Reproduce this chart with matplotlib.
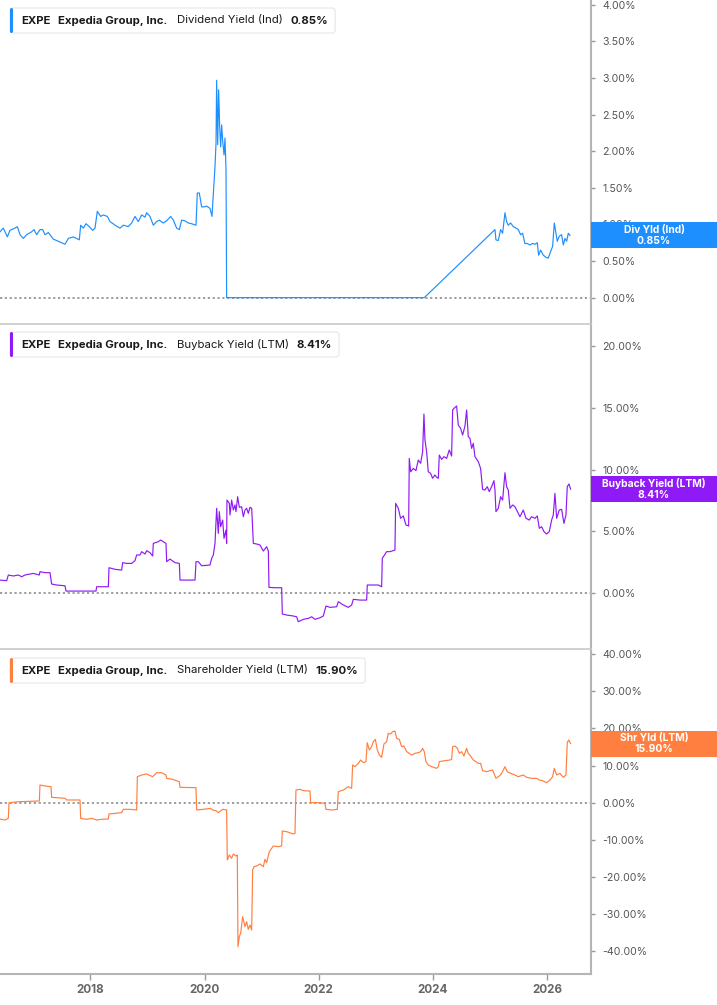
import numpy as np
import matplotlib
matplotlib.use('Agg')
import matplotlib.pyplot as plt
from matplotlib.patches import FancyBboxPatch, Rectangle
from matplotlib.transforms import IdentityTransform

# Dividend yield (Ind), %
div_years = [2016.414, 2016.472, 2016.543, 2016.589, 2016.677, 2016.718, 2016.765, 2016.823, 2016.881, 2016.969,
             2017.010, 2017.057, 2017.115, 2017.162, 2017.203, 2017.261, 2017.349, 2017.436, 2017.553, 2017.612,
             2017.699, 2017.804, 2017.828, 2017.874, 2017.921, 2017.980, 2018.038, 2018.079, 2018.120, 2018.178,
             2018.225, 2018.295, 2018.342, 2018.430, 2018.517, 2018.576, 2018.663, 2018.722, 2018.780, 2018.838,
             2018.897, 2018.955, 2018.984, 2019.043, 2019.101, 2019.160, 2019.206, 2019.276, 2019.335, 2019.405,
             2019.452, 2019.510, 2019.557, 2019.598, 2019.656, 2019.715, 2019.773, 2019.849, 2019.872, 2019.907,
             2019.948, 2019.989, 2020.036, 2020.094, 2020.129, 2020.153, 2020.182, 2020.200, 2020.211, 2020.229,
             2020.246, 2020.264, 2020.281, 2020.299, 2020.316, 2020.340, 2020.357, 2020.375, 2020.386, 2023.850,
             2025.089, 2025.106, 2025.147, 2025.188, 2025.223, 2025.264, 2025.293, 2025.322, 2025.363, 2025.410,
             2025.457, 2025.498, 2025.538, 2025.573, 2025.614, 2025.656, 2025.702, 2025.749, 2025.790, 2025.831,
             2025.854, 2025.889, 2025.936, 2025.983, 2026.023, 2026.064, 2026.099, 2026.129, 2026.158, 2026.181,
             2026.216, 2026.257, 2026.287, 2026.316, 2026.345, 2026.374, 2026.403]
div_vals = [0.90, 0.95, 0.83, 0.92, 0.95, 0.97, 0.86, 0.81, 0.86, 0.90,
            0.93, 0.86, 0.93, 0.93, 0.86, 0.89, 0.80, 0.77, 0.73, 0.81,
            0.83, 0.79, 0.99, 0.95, 1.01, 0.97, 0.92, 0.95, 1.18, 1.11,
            1.13, 1.11, 1.04, 0.99, 0.95, 0.99, 0.97, 1.02, 1.11, 1.04,
            1.13, 1.10, 1.16, 1.11, 0.99, 1.04, 1.06, 1.02, 1.05, 1.11,
            1.06, 0.95, 0.93, 1.06, 1.05, 1.02, 1.01, 0.99, 1.43, 1.43,
            1.24, 1.24, 1.25, 1.22, 1.11, 1.42, 1.79, 2.11, 2.97, 2.09,
            2.84, 2.34, 2.06, 2.36, 2.15, 1.95, 2.18, 1.75, 0.00, 0.00,
            0.93, 0.79, 0.78, 0.93, 0.88, 1.16, 1.04, 0.99, 1.02, 0.97,
            0.95, 0.93, 0.86, 0.88, 0.74, 0.74, 0.72, 0.74, 0.73, 0.75,
            0.58, 0.65, 0.58, 0.55, 0.54, 0.63, 0.70, 1.02, 0.88, 0.77,
            0.84, 0.86, 0.72, 0.81, 0.77, 0.88, 0.85]

# Buyback yield (LTM), %
bb_years = [2016.414, 2016.531, 2016.560, 2016.648, 2016.735, 2016.794, 2016.852, 2016.940, 2016.998, 2017.103,
            2017.115, 2017.203, 2017.290, 2017.319, 2017.407, 2017.553, 2017.571, 2017.699, 2017.874, 2018.096,
            2018.108, 2018.225, 2018.313, 2018.324, 2018.430, 2018.546, 2018.564, 2018.634, 2018.722, 2018.780,
            2018.809, 2018.868, 2018.897, 2018.955, 2018.984, 2019.043, 2019.090, 2019.101, 2019.189, 2019.230,
            2019.276, 2019.323, 2019.335, 2019.393, 2019.481, 2019.557, 2019.569, 2019.685, 2019.832, 2019.849,
            2019.890, 2019.948, 2020.094, 2020.124, 2020.153, 2020.182, 2020.211, 2020.240, 2020.258, 2020.281,
            2020.316, 2020.340, 2020.375, 2020.386, 2020.392, 2020.433, 2020.445, 2020.474, 2020.503, 2020.532,
            2020.550, 2020.579, 2020.608, 2020.649, 2020.679, 2020.708, 2020.737, 2020.766, 2020.795, 2020.825,
            2020.854, 2020.912, 2020.971, 2021.029, 2021.087, 2021.117, 2021.128, 2021.233, 2021.350, 2021.362,
            2021.438, 2021.555, 2021.613, 2021.642, 2021.730, 2021.817, 2021.876, 2021.934, 2022.022, 2022.080,
            2022.127, 2022.197, 2022.314, 2022.343, 2022.431, 2022.518, 2022.577, 2022.606, 2022.723, 2022.840,
            2022.851, 2022.957, 2023.044, 2023.103, 2023.114, 2023.190, 2023.249, 2023.336, 2023.348, 2023.395,
            2023.435, 2023.482, 2023.529, 2023.576, 2023.587, 2023.611, 2023.657, 2023.704, 2023.745, 2023.786,
            2023.821, 2023.844, 2023.862, 2023.891, 2023.920, 2023.961, 2023.996, 2024.037, 2024.066, 2024.096,
            2024.113, 2024.154, 2024.195, 2024.242, 2024.288, 2024.329, 2024.347, 2024.388, 2024.417, 2024.446,
            2024.487, 2024.522, 2024.563, 2024.592, 2024.621, 2024.651, 2024.680, 2024.709, 2024.738, 2024.797,
            2024.837, 2024.872, 2024.913, 2024.954, 2024.989, 2025.030, 2025.071, 2025.089, 2025.106, 2025.147,
            2025.188, 2025.223, 2025.264, 2025.293, 2025.322, 2025.352, 2025.398, 2025.439, 2025.469, 2025.527,
            2025.585, 2025.632, 2025.691, 2025.731, 2025.790, 2025.831, 2025.866, 2025.907, 2025.948, 2025.994,
            2026.041, 2026.082, 2026.111, 2026.140, 2026.170, 2026.216, 2026.257, 2026.298, 2026.333, 2026.356,
            2026.386, 2026.415]
bb_vals = [1.05, 1.00, 1.46, 1.38, 1.46, 1.32, 1.46, 1.54, 1.59, 1.46,
           1.73, 1.65, 1.65, 0.73, 0.65, 0.59, 0.16, 0.16, 0.16, 0.16,
           0.51, 0.51, 0.51, 2.05, 1.92, 1.86, 2.46, 2.40, 2.40, 2.62,
           3.08, 3.08, 3.35, 3.16, 3.43, 3.27, 3.00, 4.02, 4.16, 4.29,
           4.16, 4.02, 2.54, 2.75, 2.46, 2.40, 1.05, 1.05, 1.05, 2.54,
           2.54, 2.21, 2.27, 2.81, 3.08, 4.02, 6.86, 4.83, 6.59, 5.37,
           5.91, 4.43, 5.10, 4.02, 7.53, 7.26, 6.32, 7.53, 6.72, 7.13,
           6.59, 7.80, 6.94, 6.99, 6.18, 6.72, 6.86, 6.45, 6.94, 6.86,
           4.02, 3.97, 3.89, 3.40, 3.75, 3.40, 0.46, 0.43, 0.43, -1.70,
           -1.78, -1.86, -1.92, -2.32, -2.13, -2.05, -1.92, -2.13, -2.00, -1.86,
           -1.05, -1.16, -1.11, -0.70, -0.97, -1.16, -0.97, -0.51, -0.57, -0.57,
           0.65, 0.65, 0.65, 0.51, 2.81, 3.35, 3.35, 3.48, 7.26, 6.86,
           6.05, 6.24, 5.51, 5.43, 10.90, 9.82, 10.09, 9.91, 10.77, 10.50,
           11.44, 14.49, 12.39, 11.44, 9.82, 9.69, 9.29, 9.56, 9.37, 9.29,
           11.17, 10.82, 11.04, 10.90, 11.58, 11.09, 14.82, 15.03, 15.14, 13.60,
           13.33, 12.79, 13.52, 14.82, 12.66, 12.52, 11.71, 12.12, 11.04, 10.63,
           10.09, 8.39, 8.34, 8.61, 8.21, 8.61, 9.10, 8.34, 6.59, 6.86,
           7.80, 7.53, 9.74, 8.61, 8.34, 6.86, 7.13, 6.99, 6.72, 6.18,
           6.72, 6.05, 5.91, 6.18, 6.05, 6.24, 5.24, 5.37, 4.97, 4.78,
           4.97, 5.91, 6.32, 8.07, 6.05, 6.72, 6.78, 5.64, 6.32, 8.61,
           8.83, 8.41]

# Shareholder yield (LTM), %
shr_years = [2016.414, 2016.502, 2016.560, 2016.572, 2016.765, 2016.940, 2017.103, 2017.115, 2017.203, 2017.308,
             2017.319, 2017.553, 2017.582, 2017.816, 2017.828, 2017.933, 2018.020, 2018.108, 2018.196, 2018.313,
             2018.324, 2018.430, 2018.546, 2018.576, 2018.692, 2018.809, 2018.821, 2018.897, 2018.984, 2019.090,
             2019.160, 2019.248, 2019.323, 2019.335, 2019.440, 2019.557, 2019.569, 2019.849, 2019.861, 2019.978,
             2020.106, 2020.141, 2020.200, 2020.240, 2020.316, 2020.386, 2020.398, 2020.433, 2020.474, 2020.503,
             2020.550, 2020.573, 2020.585, 2020.608, 2020.632, 2020.667, 2020.708, 2020.737, 2020.766, 2020.795,
             2020.825, 2020.842, 2020.866, 2020.912, 2020.971, 2021.029, 2021.058, 2021.087, 2021.134, 2021.204,
             2021.292, 2021.350, 2021.362, 2021.438, 2021.555, 2021.584, 2021.601, 2021.672, 2021.730, 2021.847,
             2021.858, 2021.993, 2022.109, 2022.127, 2022.226, 2022.326, 2022.343, 2022.431, 2022.518, 2022.577,
             2022.594, 2022.635, 2022.694, 2022.735, 2022.781, 2022.828, 2022.851, 2022.887, 2022.927, 2022.957,
             2022.992, 2023.027, 2023.062, 2023.103, 2023.143, 2023.190, 2023.219, 2023.260, 2023.295, 2023.336,
             2023.365, 2023.412, 2023.453, 2023.494, 2023.541, 2023.587, 2023.628, 2023.687, 2023.745, 2023.786,
             2023.821, 2023.850, 2023.879, 2023.920, 2023.979, 2024.066, 2024.096, 2024.113, 2024.212, 2024.300,
             2024.329, 2024.347, 2024.388, 2024.429, 2024.464, 2024.505, 2024.545, 2024.592, 2024.621, 2024.662,
             2024.709, 2024.756, 2024.797, 2024.837, 2024.872, 2024.943, 2025.001, 2025.048, 2025.071, 2025.106,
             2025.165, 2025.206, 2025.264, 2025.305, 2025.363, 2025.439, 2025.498, 2025.585, 2025.644, 2025.731,
             2025.819, 2025.866, 2025.924, 2025.994, 2026.053, 2026.099, 2026.129, 2026.170, 2026.228, 2026.287,
             2026.333, 2026.356, 2026.380, 2026.415]
shr_vals = [-4.38, -4.65, -4.20, 0.01, 0.28, 0.37, 0.46, 4.76, 4.49, 4.31,
            1.44, 1.18, 0.73, 0.73, -4.20, -4.47, -4.20, -4.65, -4.47, -4.38,
            -3.04, -2.86, -2.68, -1.78, -1.78, -1.96, 7.00, 7.45, 7.72, 7.00,
            8.07, 8.07, 7.45, 6.55, 6.28, 5.65, 4.13, 4.04, -1.96, -1.78,
            -1.51, -1.96, -2.14, -2.68, -1.78, -1.96, -15.40, -14.06, -14.95, -13.79,
            -14.33, -14.06, -38.70, -36.00, -35.10, -30.64, -33.33, -31.98, -34.04, -32.88,
            -34.22, -18.09, -17.19, -17.01, -16.48, -17.19, -15.22, -16.12, -13.16, -11.64,
            -11.82, -11.64, -7.61, -7.79, -8.41, -8.23, 3.41, 3.59, 3.23, 3.14,
            0.01, 0.01, -0.17, -1.78, -1.96, -1.78, 2.97, 3.41, 4.31, 3.86,
            10.13, 9.69, 10.58, 11.48, 10.76, 11.03, 16.14, 14.17, 15.06, 16.41,
            17.03, 14.17, 12.82, 12.20, 15.78, 16.41, 18.65, 18.47, 19.09, 19.27,
            17.30, 17.03, 15.06, 15.24, 13.72, 13.27, 12.82, 13.27, 13.45, 13.72,
            14.62, 13.72, 11.03, 10.13, 9.69, 9.24, 9.69, 11.03, 11.30, 11.48,
            11.66, 15.06, 15.24, 14.62, 13.27, 13.72, 12.55, 14.62, 13.27, 12.55,
            11.48, 11.03, 10.58, 10.58, 8.61, 8.34, 8.61, 8.79, 7.89, 6.55,
            7.18, 7.89, 9.69, 8.34, 7.89, 7.45, 7.00, 7.45, 6.82, 6.55,
            6.55, 6.10, 5.92, 5.38, 6.10, 7.00, 9.24, 7.45, 7.89, 6.82,
            7.45, 16.14, 16.85, 15.90]

panels = [
    ('Dividend Yield (Ind)', 'Div Yld (Ind)', '0.85%', div_years, div_vals, '#1e8fff', (-0.36, 4.067), np.arange(0, 4.01, 0.5)),
    ('Buyback Yield (LTM)', 'Buyback Yield (LTM)', '8.41%', bb_years, bb_vals, '#8f1af5', (-4.53, 21.78), np.arange(0, 20.1, 5)),
    ('Shareholder Yield (LTM)', 'Shr Yld (LTM)', '15.90%', shr_years, shr_vals, '#ff7f40', (-46.05, 41.32), np.arange(-40, 40.1, 10)),
]

W, H = 717, 1005
plt.rcParams['font.family'] = ['Inter', 'DejaVu Sans']
fig = plt.figure(figsize=(W / 100, H / 100), dpi=100)
renderer = fig.canvas.get_renderer()

# pixel rows of each panel (top, bottom)
rows = [(0, 324), (324, 649), (649, 974)]
axes = []
for i, (top, bottom) in enumerate(rows):
    ax = fig.add_axes([0, 1 - bottom / H, 591 / W, (bottom - top) / H])
    axes.append(ax)

for i, (ax, p) in enumerate(zip(axes, panels)):
    metric, short, last, xs, ys, color, ylim, yt = p
    ax.plot(xs, ys, color=color, lw=0.85, zorder=3)
    ax.axhline(0, color='#8c8c8c', lw=1.2, ls=(0, (1.3, 1.6)), zorder=2)
    ax.set_xlim(2016.414, 2026.772)
    ax.set_ylim(*ylim)
    ax.yaxis.tick_right()
    ax.set_yticks(yt)
    ax.set_yticklabels(['{:.2f}%'.format(v) for v in yt])
    ax.tick_params(axis='y', length=3, width=1, color='#999999', labelcolor='#555555',
                   labelsize=7.6, pad=5)
    ax.spines['left'].set_visible(False)
    ax.spines['right'].set_color('#b5b5b5')
    ax.spines['right'].set_linewidth(1.5)
    ax.spines['top'].set_color('#c8c8c8')
    ax.spines['top'].set_linewidth(1.2)
    ax.spines['bottom'].set_visible(False)
    if i == 0:
        ax.spines['top'].set_visible(False)
    if i < 2:
        ax.set_xticks([])
    else:
        ax.spines['bottom'].set_visible(True)
        ax.spines['bottom'].set_color('#b5b5b5')
        ax.spines['bottom'].set_linewidth(1.5)
        ax.set_xticks([2018, 2020, 2022, 2024, 2026])
        ax.set_xticklabels(['2018', '2020', '2022', '2024', '2026'])
        ax.tick_params(axis='x', length=4, width=1, color='#999999', labelcolor='#666666',
                       labelsize=8.4, pad=3)
        for t in ax.get_xticklabels():
            t.set_fontweight('bold')
    ax.set_facecolor('white')

    # title box at top left
    top = rows[i][0] + (8 if i < 2 else 9)
    bh = 25
    yc = H - (top + bh / 2)
    x = 21
    pieces = [('EXPE', 'bold'), ('Expedia Group, Inc.', 'bold'), (metric, 'normal'), (last, 'bold')]
    gaps = [8, 9, 8, 0]
    for (txt, wt), g in zip(pieces, gaps):
        t = fig.text(x / W, yc / H, txt, fontsize=8.2, fontweight=wt, color='#1a1a1a',
                     ha='left', va='center', zorder=6)
        bb = t.get_window_extent(renderer)
        x = bb.x1 + g
    right = x + 7
    fig.add_artist(FancyBboxPatch((10, H - top - bh), right - 10, bh,
                                  boxstyle='round,pad=0,rounding_size=3', transform=IdentityTransform(),
                                  facecolor='white', edgecolor='#e6e6e6', lw=0.8, zorder=4))
    fig.add_artist(FancyBboxPatch((10, H - top - bh), 3, bh,
                                  boxstyle='round,pad=0,rounding_size=1.5', transform=IdentityTransform(),
                                  facecolor=color, edgecolor='none', zorder=5))

    # value box on the right
    yv = ax.transData.transform((2026.4, ys[-1]))[1]
    fig.add_artist(Rectangle((591, yv - 13), W - 591, 26, transform=IdentityTransform(),
                             facecolor=color, edgecolor='none', zorder=4))
    fig.text(654 / W, yv / H, short + '\n' + last, fontsize=7.4, fontweight='bold', color='white',
             ha='center', va='center', linespacing=1.05, zorder=6)

fig.savefig('out.png', dpi=100, facecolor='white')
